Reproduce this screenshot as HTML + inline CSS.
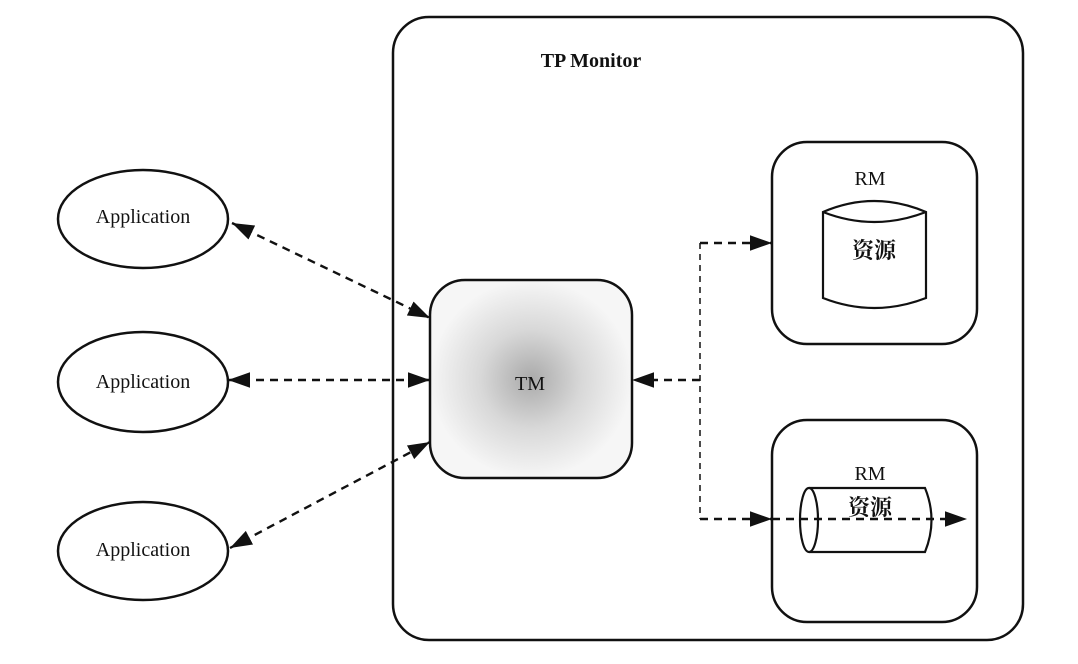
<!DOCTYPE html>
<html><head><meta charset="utf-8"><style>
html,body{margin:0;padding:0;background:#fff;}
svg{display:block;}
text{font-family:"Liberation Serif","Noto Serif CJK SC",serif;fill:#111;}
</style></head><body>
<svg width="1078" height="664" viewBox="0 0 1078 664" xmlns="http://www.w3.org/2000/svg">
<defs>
<marker id="b" viewBox="0 0 20 14" refX="20" refY="7" markerWidth="22" markerHeight="16" markerUnits="userSpaceOnUse" orient="auto-start-reverse">
<path d="M0,0 L20,7 L0,14 z" fill="#111"/></marker>
<radialGradient id="g"><stop offset="0" stop-color="#aaa"/><stop offset="0.5" stop-color="#d8d8d8"/><stop offset="1" stop-color="#f6f6f6"/></radialGradient>
</defs>
<rect x="393" y="17" width="630" height="623" rx="36" fill="none" stroke="#111" stroke-width="2.5"/>
<text x="591" y="67" font-size="20" font-weight="bold" text-anchor="middle">TP Monitor</text>

<ellipse cx="143" cy="219" rx="85" ry="49" fill="#fff" stroke="#111" stroke-width="2.5"/>
<text x="143" y="223" font-size="20" text-anchor="middle">Application</text>
<ellipse cx="143" cy="382" rx="85" ry="50" fill="#fff" stroke="#111" stroke-width="2.5"/>
<text x="143" y="388" font-size="20" text-anchor="middle">Application</text>
<ellipse cx="143" cy="551" rx="85" ry="49" fill="#fff" stroke="#111" stroke-width="2.5"/>
<text x="143" y="556" font-size="20" text-anchor="middle">Application</text>

<rect x="430" y="280" width="202" height="198" rx="35" fill="url(#g)" stroke="#111" stroke-width="2.5"/>
<text x="530" y="390" font-size="20" text-anchor="middle">TM</text>

<rect x="772" y="142" width="205" height="202" rx="35" fill="#fff" stroke="#111" stroke-width="2.5"/>
<text x="870" y="185" font-size="20" text-anchor="middle">RM</text>
<path d="M823,212 Q874,190 926,212 L926,298 Q874,318 823,298 Z" fill="#fff" stroke="#111" stroke-width="2.2"/>
<path d="M823,212 Q874,232 926,212" fill="none" stroke="#111" stroke-width="2.2"/>
<text x="874" y="258" font-size="22" font-weight="bold" text-anchor="middle">资源</text>

<rect x="772" y="420" width="205" height="202" rx="35" fill="#fff" stroke="#111" stroke-width="2.5"/>
<text x="870" y="480" font-size="20" text-anchor="middle">RM</text>
<path d="M809,488 L925,488 Q938,520 925,552 L809,552" fill="#fff" stroke="#111" stroke-width="2.2"/>
<ellipse cx="809" cy="520" rx="9" ry="32" fill="#fff" stroke="#111" stroke-width="2.2"/>
<text x="870" y="515" font-size="22" font-weight="bold" text-anchor="middle">资源</text>

<g stroke="#111" stroke-width="2.4" stroke-dasharray="8,6" fill="none">
<line x1="232" y1="223" x2="430" y2="318" marker-start="url(#b)" marker-end="url(#b)"/>
<line x1="228" y1="380" x2="430" y2="380" marker-start="url(#b)" marker-end="url(#b)"/>
<line x1="230" y1="548" x2="430" y2="442" marker-start="url(#b)" marker-end="url(#b)"/>
<polyline points="700,243 700,519" stroke-width="1.5" stroke-dasharray="6,5"/>
<line x1="700" y1="243" x2="772" y2="243" marker-end="url(#b)"/>
<line x1="700" y1="380" x2="632" y2="380" marker-end="url(#b)"/>
<line x1="700" y1="519" x2="772" y2="519" marker-end="url(#b)"/>
<line x1="772" y1="519" x2="967" y2="519" marker-end="url(#b)"/>
</g>
</svg>
</body></html>
